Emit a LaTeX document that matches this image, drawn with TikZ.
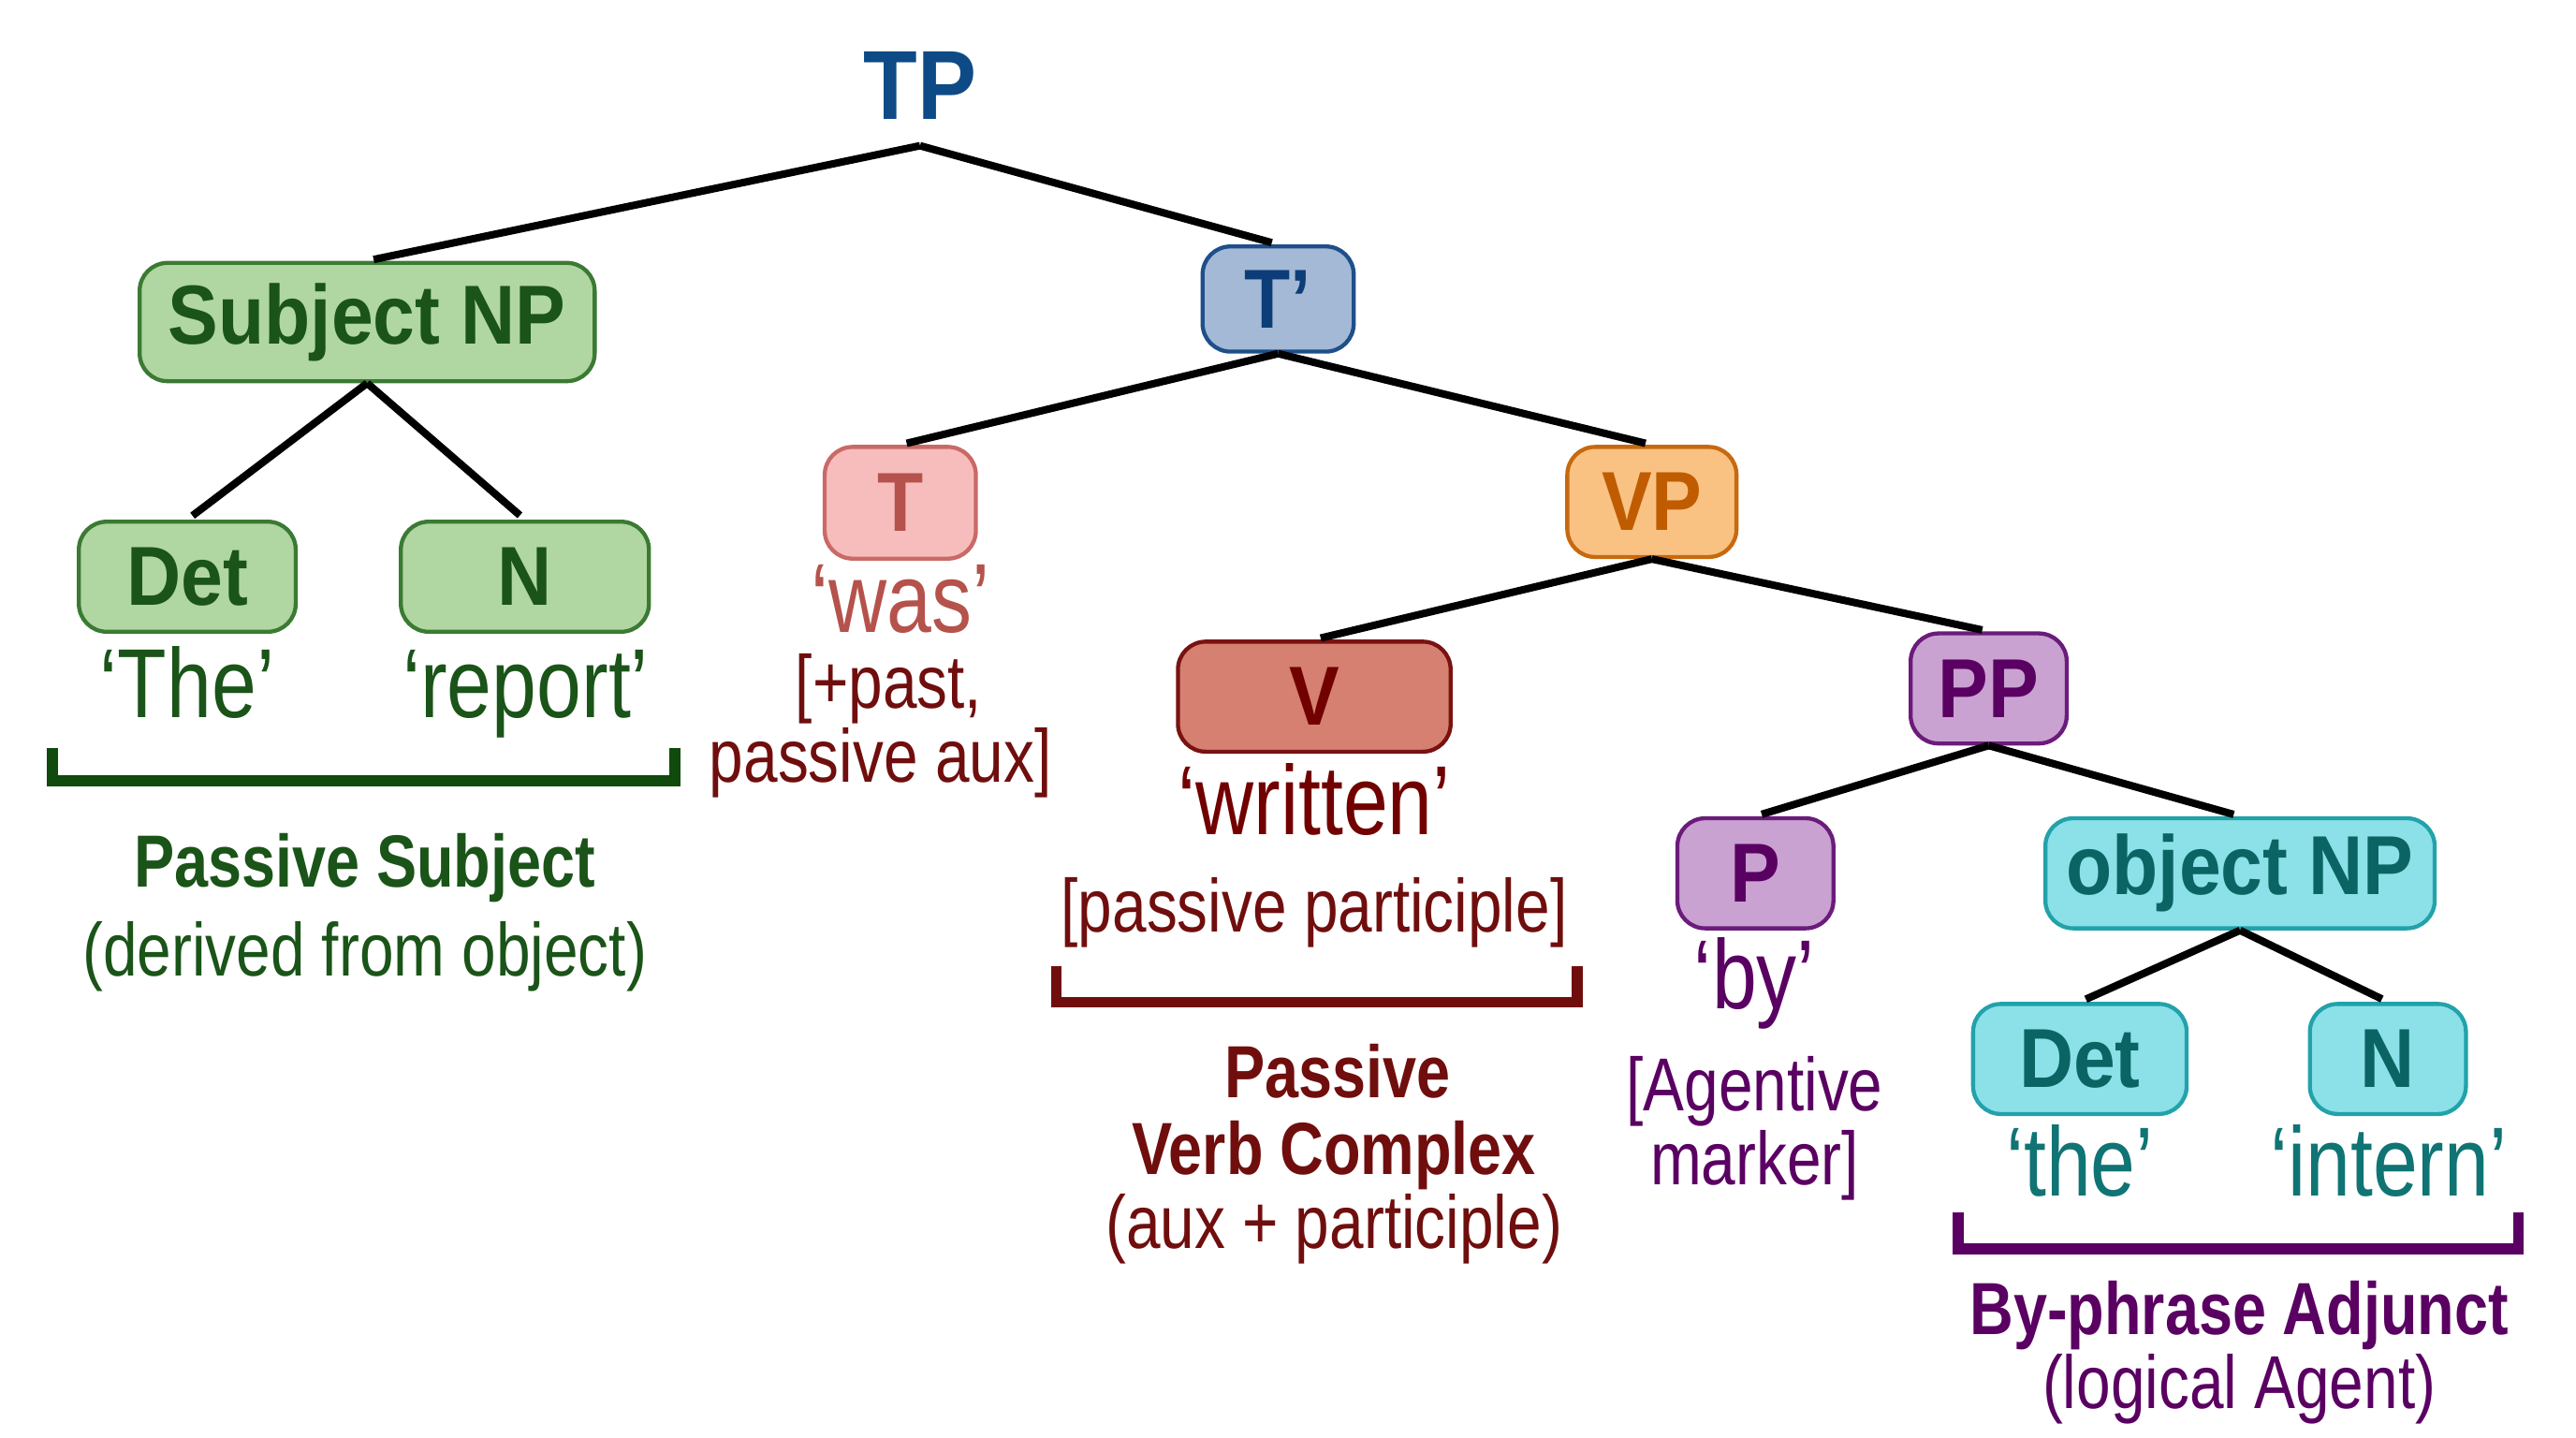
\documentclass[tikz,border=0pt]{standalone}
\usepackage{fontspec}
\setmainfont{Liberation Sans}
\newfontfamily\boxfont{Liberation Sans}[FakeStretch=0.9]
\newfontfamily\condfont{Liberation Sans}[FakeStretch=0.82]

\definecolor{tpblue}{HTML}{0E4A85}
\definecolor{tbarfill}{HTML}{A3B9D5}
\definecolor{tbardraw}{HTML}{1F4F8A}
\definecolor{tbartext}{HTML}{0C3D78}
\definecolor{subjfill}{HTML}{B0D6A2}
\definecolor{subjdraw}{HTML}{3B7A33}
\definecolor{subjtext}{HTML}{1A5418}
\definecolor{subjbrace}{HTML}{104A0C}
\definecolor{tfill}{HTML}{F7BDBD}
\definecolor{tdraw}{HTML}{C96A66}
\definecolor{ttext}{HTML}{B5524C}
\definecolor{auxred}{HTML}{700E0E}
\definecolor{vpfill}{HTML}{F9C282}
\definecolor{vpdraw}{HTML}{C8690F}
\definecolor{vptext}{HTML}{C05C00}
\definecolor{vfill}{HTML}{D58070}
\definecolor{vdraw}{HTML}{7A1212}
\definecolor{vtext}{HTML}{720000}
\definecolor{ppfill}{HTML}{C9A2D2}
\definecolor{ppdraw}{HTML}{6B1C7A}
\definecolor{pptext}{HTML}{5A0062}
\definecolor{objfill}{HTML}{8CE0E8}
\definecolor{objdraw}{HTML}{22A2AA}
\definecolor{objtext}{HTML}{0B6464}
\definecolor{bygloss}{HTML}{107474}

\begin{document}
\begin{tikzpicture}[x=0.1mm, y=-0.1mm,
  cat/.style={draw, rounded corners=1.7mm, line width=0.7pt, inner sep=0pt,
    minimum height=6.7mm, font=\boxfont\bfseries\fontsize{14.5}{16}\selectfont},
  gloss/.style={anchor=base, font=\condfont\fontsize{17}{18}\selectfont},
  note/.style={anchor=base, font=\condfont\fontsize{13}{14}\selectfont},
  headline/.style={anchor=base, font=\condfont\bfseries\fontsize{12.8}{14}\selectfont},
  branch/.style={line width=1.3pt, shorten >=0.4mm},
  bracket/.style={line width=1.9pt}]

  \useasboundingbox (0,0) rectangle (1568,875);

  % --- 1. TP and T' ---
  \node[inner sep=0pt, minimum height=7.2mm, text=tpblue,
    font=\boxfont\bfseries\fontsize{17}{18}\selectfont] (tp) at (560,52) {TP};
  \node[cat, fill=tbarfill, draw=tbardraw, text=tbartext,
    minimum width=9.2mm, minimum height=6.4mm] (tbar) at (778,182) {T’};

  % --- 2. subject NP (green) ---
  \node[cat, fill=subjfill, draw=subjdraw, text=subjtext,
    minimum width=27.7mm, minimum height=7.2mm] (subj) at (223.5,196) {Subject NP};
  \node[cat, fill=subjfill, draw=subjdraw, text=subjtext,
    minimum width=13.2mm] (det) at (114,351) {Det};
  \node[cat, fill=subjfill, draw=subjdraw, text=subjtext,
    minimum width=15.1mm] (noun) at (319.5,351) {N};
  \node[gloss, text=subjtext] (the) at (114,437) {‘The’};
  \node[gloss, text=subjtext] (report) at (320,437) {‘report’};

  % --- 3. T and VP ---
  \node[cat, fill=tfill, draw=tdraw, text=ttext,
    minimum width=9.2mm, minimum height=6.8mm] (tense) at (548,306) {T};
  \node[gloss, text=ttext] (was) at (548,385) {‘was’};
  \node[note, text=auxred] (past) at (541,431) {[+past,};
  \node[note, text=auxred] (aux) at (536,476) {passive aux]};
  \node[cat, fill=vpfill, draw=vpdraw, text=vptext,
    minimum width=10.3mm] (vp) at (1005.5,305.5) {VP};

  % --- 4. V ---
  \node[cat, fill=vfill, draw=vdraw, text=vtext,
    minimum width=16.6mm] (verb) at (800,424) {V};
  \node[gloss, text=vtext] (written) at (800,508) {‘written’};
  \node[note, text=auxred] (partic) at (800,567) {[passive participle]};

  % --- 5. PP ---
  \node[cat, fill=ppfill, draw=ppdraw, text=pptext,
    minimum width=9.5mm] (pp) at (1210.5,419) {PP};
  \node[cat, fill=ppfill, draw=ppdraw, text=pptext,
    minimum width=9.5mm] (prep) at (1068.5,531.5) {P};
  \node[gloss, text=pptext] (by) at (1068,614) {‘by’};
  \node[note, text=pptext] (agent) at (1068,676) {[Agentive};
  \node[note, text=pptext] (marker) at (1068,721) {marker]};

  % --- 6. object NP (cyan) ---
  \node[cat, fill=objfill, draw=objdraw, text=objtext,
    minimum width=23.7mm] (obj) at (1363.5,531.5) {object NP};
  \node[cat, fill=objfill, draw=objdraw, text=objtext,
    minimum width=13mm] (objdet) at (1266,644.5) {Det};
  \node[cat, fill=objfill, draw=objdraw, text=objtext,
    minimum width=9.5mm] (objnoun) at (1453.5,644.5) {N};
  \node[gloss, text=bygloss] (thelow) at (1266,728) {‘the’};
  \node[gloss, text=bygloss] (intern) at (1454,728) {‘intern’};

  % --- 7. branches ---
  \draw[branch] (tp.south) -- (subj.north);
  \draw[branch] (tp.south) -- (tbar.north);
  \draw[branch] (subj.south) -- (det.north);
  \draw[branch] (subj.south) -- (noun.north);
  \draw[branch] (tbar.south) -- (tense.north);
  \draw[branch] (tbar.south) -- (vp.north);
  \draw[branch] (vp.south) -- (verb.north);
  \draw[branch] (vp.south) -- (pp.north);
  \draw[branch] (pp.south) -- (prep.north);
  \draw[branch] (pp.south) -- (obj.north);
  \draw[branch] (obj.south) -- (objdet.north);
  \draw[branch] (obj.south) -- (objnoun.north);

  % --- 8. brackets and their labels ---
  \draw[bracket, subjbrace] (32,455) |- (411,475) -- (411,455);
  \node[headline, text=subjtext] (passsubj) at (222,540) {Passive Subject};
  \node[note, text=subjtext] (derived) at (222,594) {(derived from object)};

  \draw[bracket, auxred] (643,588) |- (960,610) -- (960,588);
  \node[headline, text=auxred] (passive) at (814,668) {Passive};
  \node[headline, text=auxred] (vcomplex) at (812,715) {Verb Complex};
  \node[note, text=auxred] (auxpart) at (812,760) {(aux + participle)};

  \draw[bracket, pptext] (1192,738) |- (1533,760) -- (1533,738);
  \node[headline, text=pptext] (byphrase) at (1363,812) {By-phrase Adjunct};
  \node[note, text=pptext] (logical) at (1363,857) {(logical Agent)};

\end{tikzpicture}
\end{document}
